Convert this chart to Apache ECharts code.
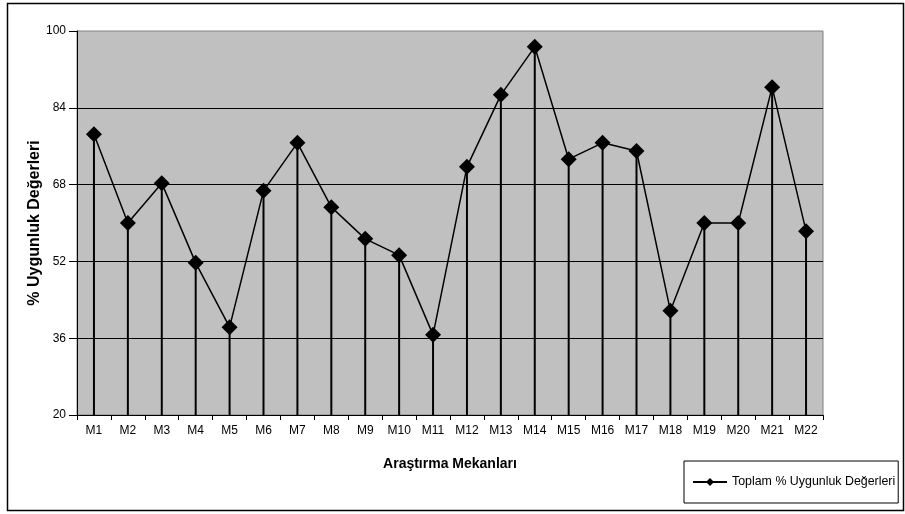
<!DOCTYPE html>
<html>
<head>
<meta charset="utf-8">
<script src="https://cdn.jsdelivr.net/npm/echarts@6/dist/echarts.min.js"></script>
<style>html,body{margin:0;padding:0;background:#fff;}#c{width:905px;height:514px;}</style>
</head>
<body>
<div id="c"></div>
<script>
var categories = ['M1','M2','M3','M4','M5','M6','M7','M8','M9','M10','M11','M12','M13','M14','M15','M16','M17','M18','M19','M20','M21','M22'];
var values = [78.5, 60, 68.3, 51.7, 38.3, 66.7, 76.7, 63.3, 56.7, 53.3, 36.7, 71.7, 86.7, 96.7, 73.3, 76.7, 75, 41.7, 60, 60, 88.3, 58.3];
var seriesName = 'Toplam % Uygunluk Değerleri';
var xTitle = 'Araştırma Mekanları';
var yTitle = '% Uygunluk Değerleri';

var chart = echarts.init(document.getElementById('c'), null, {renderer: 'canvas'});
var font = 'Liberation Sans, Arial, sans-serif';
chart.setOption({
  animation: false,
  backgroundColor: '#fff',
  textStyle: {fontFamily: font},
  graphic: [{
    type: 'rect', z: -10, silent: true,
    shape: {x: 7.5, y: 3.5, width: 896, height: 507},
    style: {fill: 'none', stroke: '#000', lineWidth: 1.5}
  }],
  grid: {
    left: 77, top: 31, right: 82, bottom: 99,
    show: true, backgroundColor: '#C0C0C0', borderColor: '#808080', borderWidth: 1
  },
  legend: {
    data: [seriesName],
    left: 684, top: 461,
    orient: 'horizontal',
    borderColor: '#000', borderWidth: 1,
    padding: [15, 3, 15, 8],
    itemWidth: 34, itemHeight: 10, itemGap: 3,
    textStyle: {fontSize: 12.4, color: '#000', fontFamily: font}
  },
  xAxis: {
    type: 'category',
    data: categories,
    boundaryGap: true,
    name: xTitle,
    nameLocation: 'middle',
    nameGap: 42,
    nameMoveOverlap: false,
    nameTextStyle: {fontSize: 14, fontWeight: 'bold', color: '#000', fontFamily: font},
    axisLine: {show: true, lineStyle: {color: '#000', width: 1}},
    axisTick: {show: true, length: 5, alignWithLabel: false, lineStyle: {color: '#000'}},
    axisLabel: {fontSize: 12, color: '#000', margin: 10, interval: 0, fontFamily: font},
    splitLine: {show: false}
  },
  yAxis: {
    type: 'value',
    min: 20, max: 100, interval: 16,
    name: yTitle,
    nameLocation: 'middle',
    nameGap: 34,
    nameMoveOverlap: false,
    nameRotate: 90,
    nameTextStyle: {fontSize: 16, fontWeight: 'bold', color: '#000', fontFamily: font},
    axisLine: {show: true, lineStyle: {color: '#000', width: 1}},
    axisTick: {show: true, length: 8, lineStyle: {color: '#000'}},
    axisLabel: {fontSize: 12, color: '#000', margin: 11, fontFamily: font},
    splitLine: {show: true, showMinLine: false, showMaxLine: false, lineStyle: {color: '#000', width: 1}}
  },
  series: [
    {
      name: 'drop',
      type: 'bar',
      data: values,
      barWidth: 2,
      itemStyle: {color: '#000'},
      clip: true,
      z: 2,
      silent: true
    },
    {
      name: seriesName,
      type: 'line',
      data: values,
      symbol: 'diamond',
      symbolSize: 16,
      showAllSymbol: true,
      lineStyle: {color: '#000', width: 1.5},
      itemStyle: {color: '#000'},
      z: 3
    }
  ]
});
</script>
</body>
</html>
